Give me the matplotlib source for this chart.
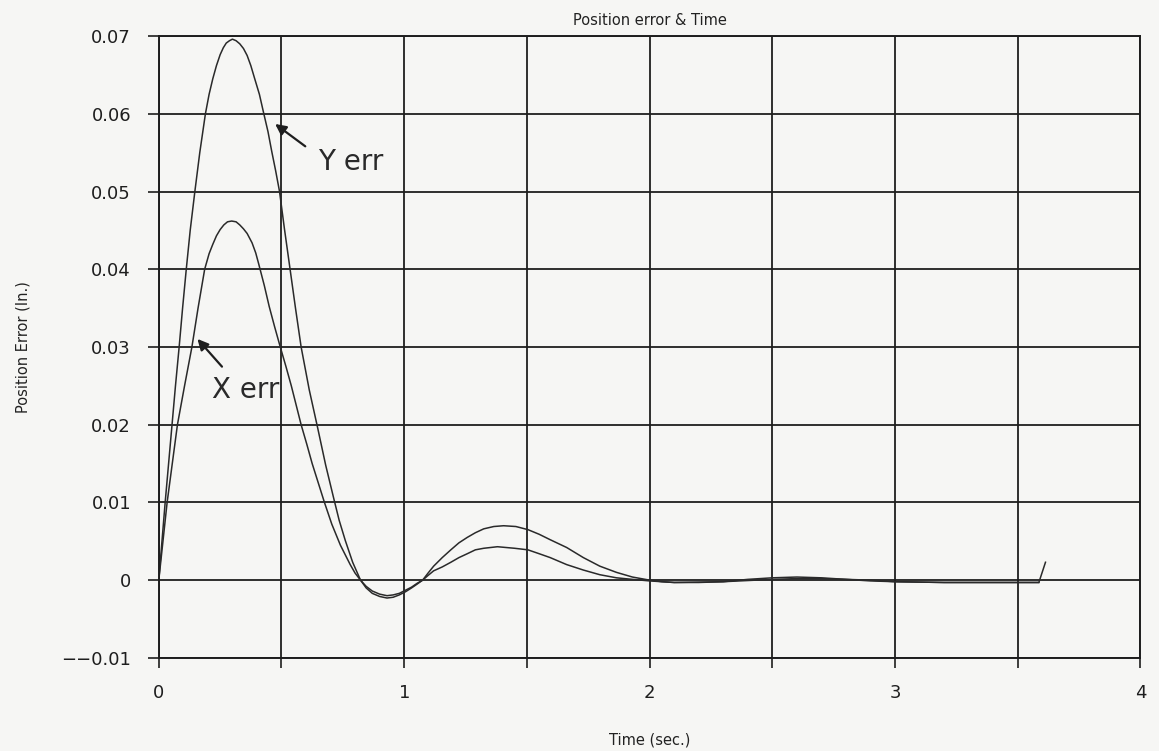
import numpy as np
import matplotlib.pyplot as plt
from matplotlib.ticker import MultipleLocator, FuncFormatter

# 读图得到的数据 (时间 s, 位置误差 in.)
t_y = [0, 0.013, 0.026, 0.04, 0.054, 0.068, 0.083, 0.097, 0.112, 0.128, 0.147,
       0.167, 0.19, 0.205, 0.22, 0.235, 0.25, 0.263, 0.275, 0.288, 0.30, 0.315,
       0.33, 0.345, 0.36, 0.375, 0.39, 0.41, 0.428, 0.445, 0.46, 0.476, 0.492,
       0.512, 0.535, 0.557, 0.58, 0.613, 0.648, 0.68, 0.713, 0.735, 0.76, 0.79,
       0.822, 0.845, 0.87, 0.90, 0.93, 0.955, 0.98, 1.005, 1.03, 1.053, 1.075,
       1.097, 1.12, 1.155, 1.19, 1.223, 1.257, 1.29, 1.324, 1.365, 1.405, 1.455,
       1.504, 1.55, 1.595, 1.662, 1.73, 1.797, 1.865, 1.93, 2.0, 2.05, 2.1, 2.2,
       2.3, 2.4, 2.5, 2.6, 2.7, 2.8, 2.9, 3.0, 3.2, 3.4, 3.586, 3.613]
y_err = [0, 0.005, 0.010, 0.015, 0.020, 0.025, 0.030, 0.035, 0.040, 0.045,
         0.050, 0.055, 0.060, 0.0625, 0.0645, 0.0662, 0.0676, 0.0685, 0.0691,
         0.0694, 0.0696, 0.0694, 0.0690, 0.0684, 0.0675, 0.0662, 0.0646,
         0.0625, 0.060, 0.0577, 0.0552, 0.0527, 0.050, 0.0452, 0.040, 0.035,
         0.030, 0.0245, 0.0195, 0.0148, 0.0105, 0.0077, 0.0051, 0.0023, 0.0,
         -0.0010, -0.0017, -0.0021, -0.0023, -0.0022, -0.0019, -0.0015,
         -0.0010, -0.0005, 0.0, 0.0009, 0.0018, 0.0029, 0.0039, 0.0048, 0.0055,
         0.0061, 0.0066, 0.0069, 0.0070, 0.0069, 0.0065, 0.0059, 0.0052,
         0.0042, 0.0029, 0.0018, 0.0010, 0.0004, 0.0, -0.0002, -0.0003,
         -0.0003, -0.0002, 0.0001, 0.0003, 0.0004, 0.0003, 0.0001, -0.0001,
         -0.0002, -0.0003, -0.0003, -0.0003, 0.0023]

t_x = [0, 0.017, 0.034, 0.055, 0.076, 0.105, 0.135, 0.16, 0.187, 0.205, 0.22,
       0.235, 0.25, 0.265, 0.28, 0.297, 0.315, 0.33, 0.345, 0.36, 0.38, 0.395,
       0.407, 0.43, 0.45, 0.472, 0.495, 0.518, 0.54, 0.56, 0.58, 0.603, 0.625,
       0.65, 0.675, 0.705, 0.74, 0.78, 0.80, 0.822, 0.845, 0.87, 0.90, 0.93,
       0.955, 0.98, 1.005, 1.03, 1.053, 1.075, 1.097, 1.12, 1.155, 1.19, 1.223,
       1.257, 1.29, 1.324, 1.38, 1.45, 1.504, 1.55, 1.595, 1.662, 1.73, 1.797,
       1.865, 1.93, 2.0, 2.1, 2.3, 2.5, 2.6, 2.7, 2.9, 3.0, 3.2, 3.4, 3.586]
x_err = [0, 0.005, 0.010, 0.015, 0.020, 0.025, 0.030, 0.035, 0.040, 0.042,
         0.0432, 0.0443, 0.0451, 0.0457, 0.0461, 0.0462, 0.0461, 0.0457,
         0.0452, 0.0446, 0.0434, 0.0421, 0.0407, 0.0379, 0.0352, 0.0326, 0.030,
         0.0275, 0.025, 0.0225, 0.020, 0.0175, 0.015, 0.0125, 0.010, 0.0072,
         0.0045, 0.0020, 0.0009, 0.0, -0.0008, -0.0014, -0.0018, -0.0020,
         -0.0019, -0.0017, -0.0013, -0.0009, -0.0004, 0.0, 0.0006, 0.0012,
         0.0017, 0.0023, 0.0029, 0.0034, 0.0039, 0.0041, 0.0043, 0.0041,
         0.0039, 0.0034, 0.0029, 0.0020, 0.0013, 0.0007, 0.0003, 0.0001,
         -0.0001, -0.0003, -0.0002, 0.0001, 0.0002, 0.0002, 0.0, -0.0002,
         -0.0003, -0.0003, -0.0003]

x_ticklabels = ['0', '1', '2', '3', '4']

plt.rcParams['font.family'] = ['DejaVu Sans']

fig = plt.figure(figsize=(11.59, 7.51), dpi=100, facecolor='#f6f6f4')
ax = fig.add_axes([0.137, 0.124, 0.847, 0.828])
ax.set_facecolor('#f6f6f4')

ax.plot(t_y, y_err, color='#2a2a2a', lw=1.1)
ax.plot(t_x, x_err, color='#2a2a2a', lw=1.1)

ax.set_xlim(0, 4)
ax.set_ylim(-0.01, 0.07)
ax.xaxis.set_major_locator(MultipleLocator(0.5))
ax.yaxis.set_major_locator(MultipleLocator(0.01))
ax.xaxis.set_major_formatter(FuncFormatter(
    lambda v, p: x_ticklabels[int(round(v))] if abs(v - round(v)) < 1e-6 else ''))
ax.yaxis.set_major_formatter(FuncFormatter(
    lambda v, p: '0' if abs(v) < 1e-9 else ('\u2212\u2212%.2f' % abs(v) if v < 0 else '%.2f' % v)))

ax.grid(True, color='#1e1e1e', lw=1.3)
for s in ax.spines.values():
    s.set_color('#1e1e1e')
    s.set_linewidth(1.4)
ax.tick_params(axis='x', direction='out', length=7, width=1.2, pad=12,
               labelsize=13, colors='#1e1e1e')
ax.tick_params(axis='y', direction='out', length=8, width=1.2, pad=12,
               labelsize=13, colors='#1e1e1e')

ax.set_title('Position error & Time', fontsize=10.5, color='#222222', pad=8)
ax.set_xlabel('Time (sec.)', fontsize=10.5, color='#222222', labelpad=22)
ax.set_ylabel('Position Error (In.)', fontsize=10.5, color='#222222', labelpad=22)

# 手写标注
ax.annotate('', xy=(0.465, 0.0589), xytext=(0.606, 0.0556),
            arrowprops=dict(arrowstyle='-|>', color='#1e1e1e', lw=1.6,
                            mutation_scale=16))
ax.text(0.65, 0.0538, 'Y err', fontsize=20, color='#2a2a2a',
        family=['Liberation Sans Narrow', 'DejaVu Sans'], va='center', ha='left')
ax.annotate('', xy=(0.15, 0.0313), xytext=(0.265, 0.0272),
            arrowprops=dict(arrowstyle='-|>', color='#1e1e1e', lw=1.6,
                            mutation_scale=16))
ax.text(0.215, 0.0244, 'X err', fontsize=20, color='#2a2a2a',
        family=['Liberation Sans Narrow', 'DejaVu Sans'], va='center', ha='left')

plt.savefig('out.png', dpi=100, facecolor=fig.get_facecolor())
